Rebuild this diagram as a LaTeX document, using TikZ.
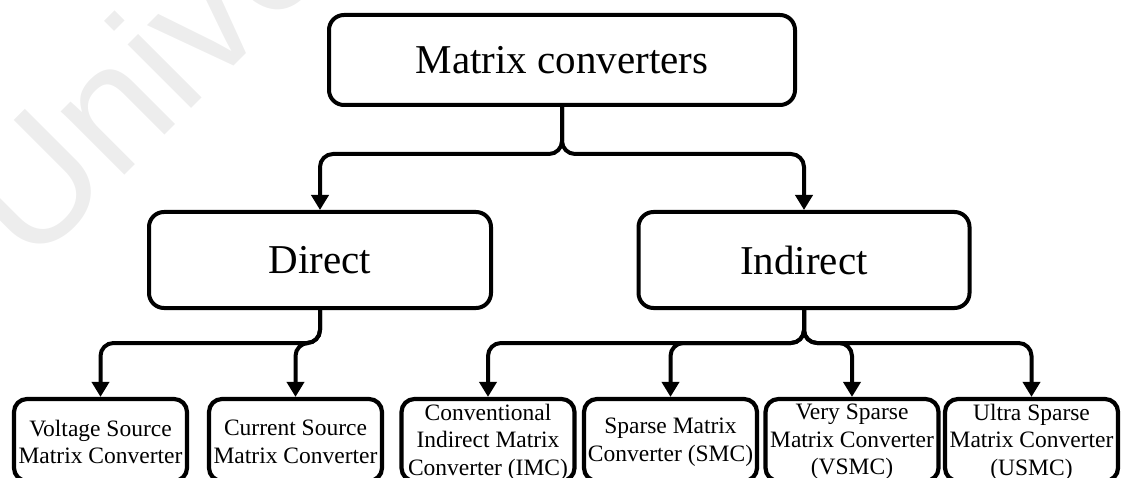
\documentclass[tikz,border=0pt]{standalone}
\usepackage{fontspec}
\setmainfont{Liberation Serif}
\newfontfamily\marksans{Liberation Sans}
\usetikzlibrary{arrows.meta}
\begin{document}
\begin{tikzpicture}[x=1pt,y=-1pt,
  bigbox/.style={draw, fill=white, line width=4pt, rounded corners=15pt,
    inner sep=0pt, font=\fontsize{41}{48}\selectfont},
  leaf/.style={draw, fill=white, line width=4.2pt, rounded corners=13pt,
    minimum width=173pt, minimum height=82pt, inner sep=0pt},
  leaftext/.style={inner sep=0pt, align=center,
    font=\fontsize{23.5}{27.5}\selectfont},
  link/.style={line width=4pt, rounded corners=13pt,
    -{Triangle[length=15pt,width=17pt]}}]
\useasboundingbox (0,0) rectangle (1134,478);
\clip (0,0) rectangle (1134,478);

% faint background lettering
\node[anchor=base west, rotate=45, inner sep=0pt, text=black!7,
  font=\marksans\fontsize{170}{170}\selectfont] (backdrop) at (30,270) {University};

% upper boxes
\node[bigbox, minimum width=466pt, minimum height=90pt] (root) at (562,60) {Matrix converters};
\node[bigbox, minimum width=342pt, minimum height=96pt] (direct) at (320,260) {Direct};
\node[bigbox, minimum width=331pt, minimum height=96pt] (indirect) at (804,260) {Indirect};

% leaf boxes (their lower edge runs along the bottom of the page) and labels
\foreach \name/\x in {vs/100.5, cs/295.5, imc/488, smc/670.5, vsmc/852, usmc/1031.5}
  \node[leaf] (\name) at (\x,440) {};

\node[leaftext] (vs-t)   at (100.5,442)  {Voltage Source\\Matrix Converter};
\node[leaftext] (cs-t)   at (295.5,442)  {Current Source\\Matrix Converter};
\node[leaftext] (imc-t)  at (488,442)    {Conventional\\Indirect Matrix\\Converter (IMC)};
\node[leaftext] (smc-t)  at (670.5,442)  {Sparse Matrix\\Converter (SMC)};
\node[leaftext] (vsmc-t) at (852,442)    {Very Sparse\\Matrix Converter\\(VSMC)};
\node[leaftext] (usmc-t) at (1031.5,442) {Ultra Sparse\\Matrix Converter\\(USMC)};

% elbow connectors
\draw[link] (root.south) -- ++(0,47) -| (direct.north);
\draw[link] (root.south) -- ++(0,47) -| (indirect.north);

\draw[link] (direct.south) -- ++(0,33) -| (vs.north);
\draw[link] (direct.south) -- ++(0,33) -| (cs.north);

\draw[link] (indirect.south) -- ++(0,33) -| (imc.north);
\draw[link] (indirect.south) -- ++(0,33) -| (smc.north);
\draw[link] (indirect.south) -- ++(0,33) -| (vsmc.north);
\draw[link] (indirect.south) -- ++(0,33) -| (usmc.north);
\end{tikzpicture}
\end{document}
